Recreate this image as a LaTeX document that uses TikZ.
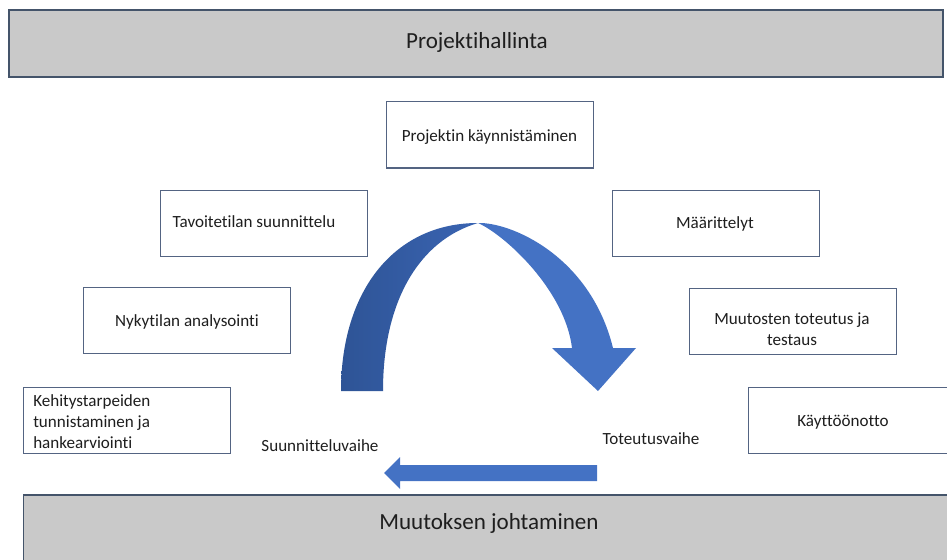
\documentclass[tikz,border=0pt]{standalone}
\usepackage{fontspec}
\setmainfont{Carlito}[Ligatures=NoCommon]
\definecolor{bargray}{RGB}{201,201,201}
\definecolor{barline}{RGB}{68,84,106}
\definecolor{boxline}{RGB}{84,100,130}
\definecolor{textgray}{RGB}{30,30,30}
\definecolor{arrowblue}{RGB}{68,114,196}
\definecolor{arrowdark}{RGB}{46,84,150}
\definecolor{arrowmid}{RGB}{58,100,178}
\begin{document}
\begin{tikzpicture}[x=0.75pt,y=-0.75pt,
  txt/.style={text=textgray, font=\fontsize{12.8}{15.75}\selectfont, inner sep=0pt},
  one/.style={txt, text height=1em, text depth=0.04em},
  big/.style={text=textgray, font=\fontsize{17.3}{20}\selectfont, inner sep=0pt, text height=1em, text depth=0.02em},
  box/.style={draw=boxline, line width=0.75pt, fill=white, minimum width=155.25pt, minimum height=49.5pt, inner sep=0pt},
  bar/.style={draw=barline, line width=0.9pt, fill=bargray, inner sep=0pt}
]
\useasboundingbox (0,0) rectangle (947,560);

% management bars
\node[bar, minimum width=700.5pt, minimum height=50.25pt] (ph) at (476,43.5) {};
\node[big] (pht) at (477,42) {Projektihallinta};
\node[bar, minimum width=703pt, minimum height=60pt] (mj) at (492,535) {};
\node[big] (mjt) at (489,523) {Muutoksen johtaminen};

% phase boxes
\node[box] (pk) at (489.5,135) {};
\node[one] (pkt) at (489.5,135) {Projektin käynnistäminen};
\node[box] (ts) at (263.5,223) {};
\node[one] (tst) at (254,221) {Tavoitetilan suunnittelu};
\node[box] (ma) at (715.5,223) {};
\node[one] (mat) at (715,222) {Määrittelyt};
\node[box] (na) at (186.5,320) {};
\node[one] (nat) at (187,320) {Nykytilan analysointi};
\node[box] (mt) at (792.5,321) {};
\node[txt, align=center] (mtt) at (792,329.5) {Muutosten toteutus ja\\testaus};
\node[box] (kh) at (126.5,420) {};
\node[txt, align=left, anchor=west] (kht) at (33,422) {Kehitystarpeiden\\tunnistaminen ja\\hankearviointi};
\node[box] (ko) at (851.5,420) {};
\node[one] (kot) at (843,420) {Käyttöönotto};

% phase labels
\node[one] (sv) at (320,445) {Suunnitteluvaihe};
\node[one] (tv) at (651,438) {Toteutusvaihe};

% curved arrow: rising (darker) half
\shade[left color=arrowdark, right color=arrowmid]
  (341,391) .. controls (341,290) and (395,223) .. (478,223)
  .. controls (420,240) and (383,300) .. (383,391) -- cycle;
% curved arrow: descending half with head
\fill[arrowblue]
  (478,223) .. controls (510,222) and (590,255) .. (613,348)
  -- (636,348) -- (598,391) -- (552,348) -- (572,348)
  .. controls (565,290) and (505,235) .. (478,223) -- cycle;

% return arrow
\fill[arrowblue] (597,465) -- (400,465) -- (400,457) -- (384,473)
  -- (400,489) -- (400,481) -- (597,481) -- cycle;
\end{tikzpicture}
\end{document}
